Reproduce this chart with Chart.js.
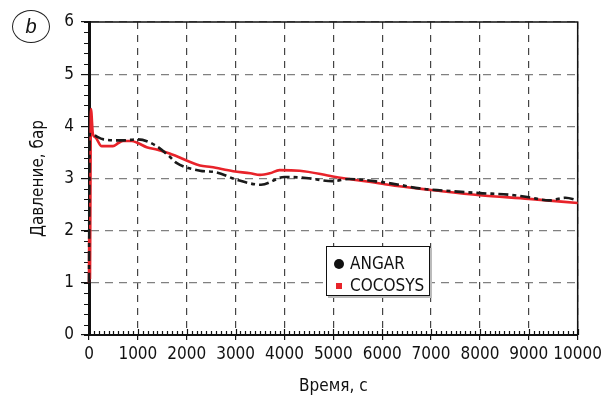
<!DOCTYPE html>
<html>
<head>
<meta charset="utf-8">
<script src="https://cdn.jsdelivr.net/npm/chart.js@4/dist/chart.umd.min.js"></script>
<style>
  body { margin: 0; background: #fff; }
  #wrap { position: relative; width: 606px; height: 405px; }
  #legend {
    position: absolute; left: 326px; top: 246px; width: 102px; height: 48px;
    border: 1.5px solid #111; background: #fff; box-shadow: 2px 2px 0 #bbb;
    font-family: "Liberation Sans Narrow", "DejaVu Sans Condensed", sans-serif; font-size: 17px; color: #111;
  }
  #legend .row { position: absolute; left: 23px; }
  #legend .dot { position: absolute; left: 7px; top: 12px; width: 10px; height: 10px; border-radius: 50%; background: #111; }
  #legend .sq { position: absolute; left: 9px; top: 36px; width: 6px; height: 6px; background: #e8232a; }
  #tag {
    position: absolute; left: 12px; top: 10px; width: 36px; height: 31px;
    border: 1px solid #222; border-radius: 50%;
    font-family: "Liberation Sans", sans-serif; font-style: italic; font-size: 20px;
    text-align: center; line-height: 31px; color: #111;
  }
</style>
</head>
<body>
<div id="wrap">
  <canvas id="chart" width="606" height="405"></canvas>
  <div id="tag">b</div>
  <div id="legend">
    <div class="dot"></div><div class="row" style="top:6px">ANGAR</div>
    <div class="sq"></div><div class="row" style="top:28px">COCOSYS</div>
  </div>
</div>
<script>
// ANGAR (black dash-dot)
const angarTime = [0, 15, 300, 700, 1000, 1350, 1650, 1790, 2270, 2600, 3010, 3520, 4000, 4440, 4980, 5330, 6000, 6350, 6760, 7230, 8000, 8590, 9000, 9410, 9750, 10000];
const angarP = [1.0, 3.85, 3.75, 3.73, 3.75, 3.64, 3.42, 3.30, 3.15, 3.12, 2.98, 2.88, 3.03, 3.01, 2.95, 2.99, 2.93, 2.88, 2.81, 2.77, 2.72, 2.69, 2.64, 2.58, 2.63, 2.58];

// COCOSYS (red solid)
const cocosysTime = [0, 5, 10, 15, 20, 25, 40, 80, 130, 260, 490, 600, 700, 870, 1000, 1180, 1400, 1650, 2270, 2500, 2950, 3300, 3500, 3700, 3900, 4310, 4990, 6000, 6350, 7000, 8000, 9000, 10000];
const cocosysP = [1.0, 1.9, 1.05, 2.0, 1.1, 1.9, 4.33, 3.85, 3.79, 3.62, 3.62, 3.68, 3.72, 3.72, 3.68, 3.60, 3.55, 3.48, 3.25, 3.22, 3.14, 3.10, 3.07, 3.10, 3.16, 3.15, 3.04, 2.90, 2.85, 2.78, 2.68, 2.61, 2.53];

const xTicks = [0, 1000, 2000, 3000, 4000, 5000, 6000, 7000, 8000, 9000, 10000];
const yTicks = [0, 1, 2, 3, 4, 5, 6];

const toPoints = (xs, ys) => xs.map((x, i) => ({ x: x, y: ys[i] }));
const font = { family: "'Liberation Sans Narrow', 'DejaVu Sans Condensed', sans-serif", size: 17 };

// frame on top/right plus minor ticks
const framePlugin = {
  id: "frame",
  beforeDatasetsDraw(chart) {
    const { ctx, chartArea: a, scales } = chart;
    ctx.save();
    ctx.strokeStyle = "#111";
    ctx.lineWidth = 1.5;
    ctx.beginPath();
    ctx.moveTo(a.left, a.top);
    ctx.lineTo(a.right, a.top);
    ctx.lineTo(a.right, a.bottom);
    ctx.stroke();
    ctx.lineWidth = 1.2;
    ctx.beginPath();
    for (let v = 0; v <= 6.001; v += 0.2) {
      const y = Math.round(scales.y.getPixelForValue(v)) + 0.5;
      ctx.moveTo(a.left - 5, y);
      ctx.lineTo(a.left, y);
    }
    for (let t = 0; t <= 10000; t += 100) {
      const x = Math.round(scales.x.getPixelForValue(t)) + 0.5;
      const len = t % 1000 === 0 ? 6 : 4;
      ctx.moveTo(x, a.bottom);
      ctx.lineTo(x, a.bottom - len);
    }
    ctx.stroke();
    ctx.restore();
  }
};

new Chart(document.getElementById("chart"), {
  type: "line",
  data: {
    datasets: [
      {
        label: "ANGAR",
        data: toPoints(angarTime, angarP),
        borderColor: "#1a1a1a",
        borderWidth: 2.6,
        borderDash: [10, 4, 4, 4],
        pointRadius: 0,
        cubicInterpolationMode: "monotone",
        clip: false
      },
      {
        label: "COCOSYS",
        data: toPoints(cocosysTime, cocosysP),
        borderColor: "#e8232a",
        borderWidth: 2.6,
        pointRadius: 0,
        cubicInterpolationMode: "monotone",
        clip: false
      }
    ]
  },
  options: {
    responsive: false,
    animation: false,
    layout: { padding: { left: 0, top: 22, right: 27, bottom: 0 } },
    plugins: { legend: { display: false }, tooltip: { enabled: false } },
    scales: {
      x: {
        type: "linear",
        min: 0,
        max: 10000,
        afterFit: s => { s.height = 70; },
        afterBuildTicks: s => { s.ticks = xTicks.map(v => ({ value: v })); },
        ticks: { font: font, color: "#111", padding: 4, maxRotation: 0, autoSkip: false, callback: v => String(v) },
        grid: { color: "#444", lineWidth: 1.2, tickLength: 5, tickColor: "#111", tickBorderDash: [] },
        border: { color: "#111", width: 2, dash: [7, 6] },
        title: { display: true, text: "Время, с", font: font, color: "#111", padding: { top: 0, bottom: 8 } }
      },
      y: {
        min: 0,
        max: 6,
        afterFit: s => { s.width = 89; },
        afterBuildTicks: s => { s.ticks = yTicks.map(v => ({ value: v })); },
        ticks: { font: font, color: "#111", padding: 7 },
        grid: { color: "#808080", lineWidth: 1.2, tickLength: 8, tickColor: "#111", tickBorderDash: [] },
        border: { color: "#111", width: 3, dash: [8, 6] },
        title: { display: true, text: "Давление, бар", font: font, color: "#111", padding: { top: 28, bottom: 0 } }
      }
    }
  },
  plugins: [framePlugin]
});
</script>
</body>
</html>
